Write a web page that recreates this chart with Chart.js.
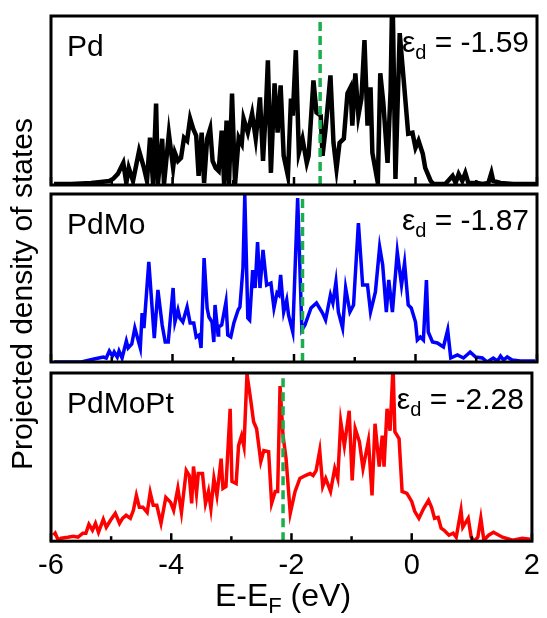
<!DOCTYPE html>
<html>
<head>
<meta charset="utf-8">
<script src="https://cdn.jsdelivr.net/npm/chart.js@4"></script>
<style>
  html, body { margin: 0; padding: 0; background: #fff; }
  #wrap { position: relative; width: 547px; height: 618px; }
  #wrap canvas { position: absolute; left: 0; top: 0; }
</style>
</head>
<body>
<div id="wrap">
  <canvas id="pd" width="547" height="618"></canvas>
  <canvas id="pdmo" width="547" height="618"></canvas>
  <canvas id="pdmopt" width="547" height="618"></canvas>
</div>
<script>
// energies in eV (E - E_F), projected d-DOS
const pdEnergy = [-5.95,-5.67,-5.34,-5.18,-5.04,-4.98,-4.90,-4.81,-4.76,-4.72,-4.65,-4.55,-4.47,-4.42,-4.37,-4.32,-4.27,-4.24,-4.17,-4.14,
  -4.06,-3.99,-3.96,-3.91,-3.86,-3.81,-3.76,-3.71,-3.66,-3.61,-3.57,-3.52,-3.48,-3.43,-3.38,-3.34,-3.29,-3.24,-3.19,-3.15,
  -3.11,-3.07,-3.02,-2.97,-2.91,-2.86,-2.83,-2.76,-2.69,-2.63,-2.56,-2.51,-2.46,-2.43,-2.38,-2.32,-2.27,-2.22,-2.17,-2.10,
  -2.05,-2.02,-1.97,-1.92,-1.86,-1.79,-1.76,-1.68,-1.63,-1.56,-1.53,-1.48,-1.40,-1.35,-1.30,-1.25,-1.18,-1.12,-1.07,-1.04,
  -0.99,-0.94,-0.89,-0.84,-0.79,-0.74,-0.71,-0.62,-0.58,-0.53,-0.46,-0.41,-0.38,-0.33,-0.26,-0.18,-0.12,-0.05,0.00,0.05,
  0.12,0.16,0.25,0.30,0.49,0.61,0.66,0.71,0.77,0.82,0.87,1.02,1.10,1.20,1.25,1.28,1.40,1.61,2.00];
const pdDos = [0.1,0.1,0.2,0.3,0.4,0.6,1.1,2.2,0.2,1.7,0.4,3.4,1.7,0.4,4.7,0.1,8.1,0.1,4.6,0.1,
  5.1,1.7,3.2,2.4,2.7,4.7,4.4,6.6,5.6,4.9,0.9,5.2,0.2,4.6,5.6,2.4,1.7,1.4,5.4,0.1,
  6.4,0.1,9.1,0.1,4.7,4.1,6.6,5.2,7.1,4.6,8.7,2.4,7.9,12.4,1.2,10.1,5.2,9.9,2.9,0.9,
  8.6,6.9,13.4,3.2,4.6,2.2,2.9,10.4,7.2,6.9,2.9,5.6,10.9,4.2,1.6,4.2,4.6,9.1,9.7,5.9,
  11.1,6.9,8.6,14.4,5.9,9.7,3.2,0.2,11.1,8.2,2.2,9.4,20.0,0.6,15.1,9.4,5.1,5.2,3.7,4.4,
  3.1,1.7,0.4,0.1,0.1,0.9,0.2,1.1,0.4,1.2,0.2,0.2,0.1,0.2,1.2,0.4,0.2,0.1,0.1];

const pdmoEnergy = [-5.95,-5.50,-5.29,-5.14,-5.09,-5.04,-4.99,-4.96,-4.91,-4.88,-4.83,-4.76,-4.73,-4.67,-4.62,-4.53,-4.50,-4.47,-4.39,-4.30,
  -4.24,-4.17,-4.12,-4.07,-3.99,-3.96,-3.91,-3.88,-3.83,-3.76,-3.71,-3.65,-3.61,-3.56,-3.53,-3.48,-3.43,-3.40,-3.35,-3.32,
  -3.30,-3.25,-3.24,-3.19,-3.12,-3.09,-3.04,-2.99,-2.92,-2.89,-2.84,-2.81,-2.76,-2.73,-2.68,-2.64,-2.60,-2.56,-2.51,-2.45,
  -2.38,-2.33,-2.28,-2.25,-2.22,-2.17,-2.12,-2.09,-2.02,-1.94,-1.87,-1.82,-1.72,-1.63,-1.53,-1.48,-1.40,-1.36,-1.31,-1.27,
  -1.20,-1.15,-1.08,-1.02,-0.94,-0.87,-0.79,-0.74,-0.66,-0.59,-0.54,-0.48,-0.44,-0.38,-0.30,-0.23,-0.18,-0.12,-0.07,0.00,
  0.03,0.08,0.13,0.18,0.21,0.28,0.36,0.41,0.46,0.53,0.58,0.69,0.79,0.90,0.99,1.10,1.18,1.28,1.35,1.40,
  1.45,1.51,1.59,1.73,1.97];
const pdmoDos = [0,0,0.3,0.5,0.4,1.1,0.6,1.0,0.5,1.1,0.4,2.1,1.4,1.8,3.4,1.4,4.9,3.4,10.0,2.4,
  7.2,3.7,2.0,2.0,7.4,4.0,5.2,4.4,4.0,5.5,3.9,3.9,2.5,2.7,1.4,10.4,5.4,4.5,4.0,2.0,
  5.7,2.7,3.5,3.7,6.0,2.7,2.5,3.9,5.2,5.5,9.4,16.7,4.4,4.2,9.2,7.4,12.0,7.4,11.2,7.7,
  7.9,5.4,6.9,6.7,8.7,5.0,6.2,4.7,3.0,16.4,3.2,3.7,5.4,5.9,4.9,4.2,6.7,5.9,8.0,5.0,
  3.4,7.4,5.0,5.7,13.9,7.7,7.7,5.0,7.0,11.5,9.7,5.0,8.2,5.0,11.0,7.7,9.9,5.7,5.4,4.0,
  2.2,2.5,2.2,8.2,3.0,2.0,1.9,1.7,1.5,3.2,0.4,0.7,0.4,1.0,0.5,0.4,0,0.4,0.1,0.6,
  0.2,0.5,0.2,0.1,0.1];

const pdmoptEnergy = [-5.96,-5.93,-5.88,-5.83,-5.72,-5.63,-5.55,-5.47,-5.42,-5.37,-5.31,-5.26,-5.21,-5.13,-5.08,-5.01,-4.93,-4.86,-4.81,-4.75,
  -4.68,-4.63,-4.58,-4.53,-4.47,-4.40,-4.35,-4.30,-4.24,-4.17,-4.09,-4.01,-3.96,-3.89,-3.83,-3.75,-3.70,-3.66,-3.63,-3.58,
  -3.55,-3.48,-3.43,-3.38,-3.34,-3.29,-3.24,-3.17,-3.14,-3.09,-3.02,-2.99,-2.92,-2.88,-2.83,-2.79,-2.74,-2.68,-2.63,-2.58,
  -2.51,-2.46,-2.38,-2.33,-2.27,-2.23,-2.19,-2.14,-2.09,-2.02,-1.94,-1.86,-1.77,-1.69,-1.64,-1.59,-1.53,-1.48,-1.43,-1.35,
  -1.28,-1.23,-1.18,-1.12,-1.04,-0.99,-0.94,-0.87,-0.81,-0.72,-0.66,-0.61,-0.54,-0.49,-0.46,-0.41,-0.36,-0.31,-0.28,-0.21,
  -0.16,-0.08,0.00,0.05,0.12,0.20,0.28,0.33,0.38,0.44,0.49,0.54,0.62,0.69,0.74,0.82,0.85,0.94,0.99,1.04,
  1.10,1.15,1.20,1.28,1.36,1.51,1.68,1.84,1.97];
const pdmoptDos = [0.6,0.8,0.1,0.3,0.4,0.5,0.4,0.8,0.8,1.7,1.1,1.8,0.9,2.2,1.4,2.1,2.8,1.8,2.3,2.6,
  2.3,3.1,4.6,3.4,3.4,2.9,4.9,3.6,3.6,1.8,4.4,3.9,3.1,5.3,2.9,7.1,6.6,3.8,7.5,4.8,
  6.8,6.8,3.8,5.0,3.3,6.3,4.6,8.3,5.3,5.5,13.3,6.0,5.8,9.6,10.6,9.5,16.8,14.3,12.0,11.3,
  8.0,9.1,9.0,3.8,5.0,5.0,15.6,10.6,8.3,2.8,5.0,6.3,6.6,6.8,6.6,7.1,9.1,5.5,6.3,5.0,
  7.3,6.3,12.0,9.6,13.1,6.1,11.3,10.0,7.3,10.1,4.6,11.8,7.5,10.6,7.5,13.3,11.1,17.6,11.0,10.3,
  5.0,4.8,4.0,3.0,2.3,3.3,4.1,3.4,2.3,2.4,1.3,1.1,0.6,0.8,0.4,3.1,1.4,2.3,0.4,0,
  0.4,2.3,0.1,0.6,0.9,0.4,0.1,0.3,0.2];

const panelNames = ['Pd', 'PdMo', 'PdMoPt'];
const dBandLabels = ['-1.59', '-1.87', '-2.28'];
const dBandLines = [-1.57, -1.86, -2.14]; // where the dashed lines sit in the picture
const xTicks = [-6, -4, -2, 0, 2];
const yTitle = 'Projected density of states';

const FONT = '"Liberation Sans", Arial, sans-serif';

function points(xs, ys) {
  return xs.map((x, i) => ({ x: x, y: ys[i] }));
}

// text with one subscript piece, e.g. E-E_F (eV)
function subText(ctx, parts, x, y, big, small) {
  ctx.font = big;
  const w1 = ctx.measureText(parts[0]).width, w3 = ctx.measureText(parts[2]).width;
  ctx.font = small;
  const w2 = ctx.measureText(parts[1]).width;
  let sx = x;
  ctx.font = big;
  ctx.fillText(parts[0], sx, y);
  ctx.font = small;
  ctx.fillText(parts[1], sx + w1, y + 7);
  ctx.font = big;
  ctx.fillText(parts[2], sx + w1 + w2, y);
  return w1 + w2 + w3;
}

function textWidth(ctx, parts, big, small) {
  ctx.font = big;
  const w = ctx.measureText(parts[0]).width + ctx.measureText(parts[2]).width;
  ctx.font = small;
  return w + ctx.measureText(parts[1]).width;
}

// frame, inward ticks and the in-panel labels
function deco(idx) {
  return {
    id: 'deco' + idx,
    afterDraw(chart) {
      const ctx = chart.ctx;
      const a = chart.chartArea;
      const xs = chart.scales.x;
      ctx.save();
      ctx.strokeStyle = '#000';
      ctx.lineWidth = 3;
      ctx.strokeRect(a.left, a.top, a.right - a.left, a.bottom - a.top);
      ctx.lineWidth = 2.5;
      for (let v = -6; v <= 2; v++) {
        const px = xs.getPixelForValue(v);
        const len = v % 2 === 0 ? 8 : 5;
        ctx.beginPath();
        ctx.moveTo(px, a.bottom);
        ctx.lineTo(px, a.bottom - len);
        ctx.stroke();
      }
      ctx.fillStyle = '#000';
      ctx.textBaseline = 'alphabetic';
      ctx.textAlign = 'left';
      const big = '30px ' + FONT, small = '20px ' + FONT;
      ctx.font = big;
      ctx.fillText(panelNames[idx], a.left + 16, a.top + 40);

      // epsilon_d label, right aligned
      const eps = ['\u03b5', 'd', ' = ' + dBandLabels[idx]];
      const w = textWidth(ctx, eps, big, small);
      subText(ctx, eps, a.right - 8 - w, a.top + 36, big, small);

      if (idx === 1) {
        ctx.save();
        ctx.translate(24, 294);
        ctx.rotate(-Math.PI / 2);
        ctx.textAlign = 'center';
        ctx.textBaseline = 'middle';
        ctx.font = '30px ' + FONT;
        ctx.fillText(yTitle, 0, 0);
        ctx.restore();
      }

      if (idx === 2) {
        const xt = ['E-E', 'F', ' (eV)'];
        const xbig = '32px ' + FONT, xsmall = '22px ' + FONT;
        const tw = textWidth(ctx, xt, xbig, xsmall);
        subText(ctx, xt, 283 - tw / 2, 606, xbig, xsmall);
      }
      ctx.restore();
    }
  };
}

function makePanel(id, idx, energy, dos, color, width, yMax, pad, showX) {
  const ctx = document.getElementById(id).getContext('2d');
  new Chart(ctx, {
    type: 'line',
    data: {
      datasets: [{
        data: [{ x: dBandLines[idx], y: 0 }, { x: dBandLines[idx], y: yMax }],
        borderColor: '#1aae4c',
        borderWidth: 3.5,
        borderDash: [9, 5],
        pointRadius: 0
      }, {
        data: points(energy, dos),
        borderColor: color,
        borderWidth: width,
        pointRadius: 0,
        tension: 0,
        fill: false
      }]
    },
    options: {
      responsive: false,
      animation: false,
      events: [],
      layout: { padding: pad },
      plugins: { legend: { display: false }, tooltip: { enabled: false } },
      scales: {
        x: {
          type: 'linear',
          min: -6,
          max: 2,
          display: showX,
          afterBuildTicks: s => { s.ticks = xTicks.map(v => ({ value: v })); },
          grid: { display: false, drawTicks: false },
          border: { display: false },
          ticks: { font: { family: FONT, size: 29 }, color: '#000', padding: 7, maxRotation: 0 }
        },
        y: {
          display: false,
          min: 0,
          max: yMax
        }
      }
    },
    plugins: [deco(idx)]
  });
}

makePanel('pd', 0, pdEnergy, pdDos, '#000000', 4.5, 16.8, { left: 51, right: 10, top: 16, bottom: 433 }, false);
makePanel('pdmo', 1, pdmoEnergy, pdmoDos, '#0000ff', 3.5, 16.8, { left: 51, right: 10, top: 194, bottom: 256 }, false);
makePanel('pdmopt', 2, pdmoptEnergy, pdmoptDos, '#ff0000', 3.5, 16.9, { left: 51, right: 10, top: 373, bottom: 28 }, true);
</script>
</body>
</html>
